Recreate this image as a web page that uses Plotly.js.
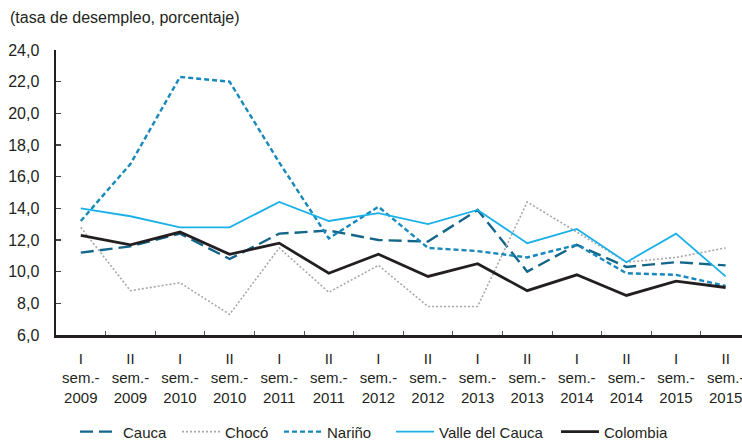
<!DOCTYPE html>
<html>
<head>
<meta charset="utf-8">
<script src="https://cdn.plot.ly/plotly-3.0.1.min.js"></script>
<style>
html,body{margin:0;padding:0;background:#fff;overflow:hidden;}
#chart{width:742px;height:443px;}
</style>
</head>
<body>
<div id="chart"></div>
<script>
const categories = [
  "I<br>sem.-<br>2009","II<br>sem.-<br>2009","I<br>sem.-<br>2010","II<br>sem.-<br>2010",
  "I<br>sem.-<br>2011","II<br>sem.-<br>2011","I<br>sem.-<br>2012","II<br>sem.-<br>2012",
  "I<br>sem.-<br>2013","II<br>sem.-<br>2013","I<br>sem.-<br>2014","II<br>sem.-<br>2014",
  "I<br>sem.-<br>2015","II<br>sem.-<br>2015"
];
const cauca    = [11.2, 11.6, 12.4, 10.8, 12.4, 12.6, 12.0, 11.9, 13.9, 10.0, 11.7, 10.3, 10.6, 10.4];
const choco    = [12.8, 8.8, 9.3, 7.3, 11.5, 8.7, 10.4, 7.8, 7.8, 14.4, 12.5, 10.6, 10.9, 11.5];
const narino   = [13.2, 16.8, 22.3, 22.0, 16.9, 12.1, 14.1, 11.5, 11.3, 10.9, 11.7, 9.9, 9.8, 9.1];
const valle    = [14.0, 13.5, 12.8, 12.8, 14.4, 13.2, 13.7, 13.0, 13.9, 11.8, 12.7, 10.6, 12.4, 9.7];
const colombia = [12.3, 11.7, 12.5, 11.1, 11.8, 9.9, 11.1, 9.7, 10.5, 8.8, 9.8, 8.5, 9.4, 9.0];
const yTickVals = [6, 8, 10, 12, 14, 16, 18, 20, 22, 24];
const yTickText = ["6,0","8,0","10,0","12,0","14,0","16,0","18,0","20,0","22,0","24,0"];

const txt = '#231f20';
const traces = [
  {name:'Cauca', y:cauca, line:{color:'#13658a', width:2.4, dash:'13px,6px'}, legend:'legend'},
  {name:'Chocó', y:choco, line:{color:'#a8a8a8', width:1.6, dash:'2px,2px'}, legend:'legend'},
  {name:'Nariño', y:narino, line:{color:'#1688bb', width:2.4, dash:'5px,3px'}, legend:'legend'},
  {name:'Valle del Cauca', y:valle, line:{color:'#1ab0e8', width:1.8}, legend:'legend2'},
  {name:'Colombia', y:colombia, line:{color:txt, width:2.8}, legend:'legend3'}
].map(t => Object.assign({x:categories, type:'scatter', mode:'lines'}, t));

const legBase = {orientation:'h', xanchor:'left', yanchor:'middle', y:-0.34,
                 font:{size:15, color:txt}, itemwidth:38, bgcolor:'rgba(0,0,0,0)'};

const layout = {
  width:742, height:443,
  margin:{l:56, r:0, t:50, b:108, autoexpand:false},
  paper_bgcolor:'#fff', plot_bgcolor:'#fff',
  font:{family:'"Liberation Sans", Arial, sans-serif', size:15, color:txt},
  showlegend:true,
  legend:Object.assign({}, legBase, {x:(75-56)/686, entrywidth:49, entrywidthmode:'pixels'}),
  legend2:Object.assign({}, legBase, {x:(391-56)/686}),
  legend3:Object.assign({}, legBase, {x:(556-56)/686}),
  xaxis:{type:'category', range:[-0.5, 13.33], showgrid:false, zeroline:false,
         showline:true, linecolor:txt, linewidth:2.5,
         ticks:'inside', tickson:'boundaries', ticklen:4, tickwidth:1, tickcolor:'#555',
         tickfont:{size:15, color:txt}, ticklabelstandoff:8, fixedrange:true},
  yaxis:{range:[6, 24], tickvals:yTickVals, ticktext:yTickText, showgrid:false, zeroline:false,
         showline:true, linecolor:txt, linewidth:2.5,
         ticks:'inside', ticklen:5, tickwidth:1.2, tickcolor:'#444',
         tickfont:{size:16, color:txt}, ticklabelstandoff:11, fixedrange:true},
  annotations:[{text:'(tasa de desempleo, porcentaje)', xref:'paper', yref:'paper',
                x:-48/686, y:1+ (50-17)/285, xanchor:'left', yanchor:'middle',
                showarrow:false, font:{size:16, color:txt}}]
};
Plotly.newPlot('chart', traces, layout, {displayModeBar:false, staticPlot:true});
</script>
</body>
</html>
